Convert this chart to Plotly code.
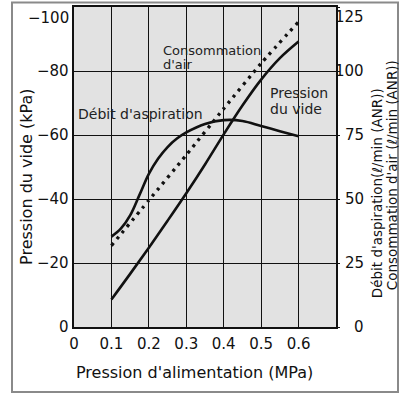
import plotly.graph_objects as go

FONT = "DejaVu Sans, Liberation Sans, Arial, sans-serif"

# ---- data ----
x_vide = [0.1, 0.15, 0.2, 0.25, 0.3, 0.35, 0.4, 0.45, 0.5, 0.55, 0.6]
vide_kpa = [-8.6, -16.6, -24.8, -33.2, -41.8, -50.8, -60.2, -69.2, -77.3, -84, -89.2]

x_debit = [0.1, 0.125, 0.15, 0.175, 0.2, 0.225, 0.25, 0.275, 0.3, 0.35, 0.4, 0.45, 0.5, 0.55, 0.6]
debit_lmin = [35.3, 38.4, 43.6, 51.6, 59.8, 65.8, 70.3, 73.6, 76, 79.3, 80.8, 80.5, 78.5, 76.5, 74.5]

x_conso = [0.1, 0.2, 0.3, 0.4, 0.5, 0.6]
conso_lmin = [31.8, 49.5, 67.2, 85.3, 103, 119.2]

x_tick_vals = [0, 0.1, 0.2, 0.3, 0.4, 0.5, 0.6]
x_tick_text = ["0", "0.1", "0.2", "0.3", "0.4", "0.5", "0.6"]
left_tick_vals = [0, -20, -40, -60, -80, -100]
left_tick_text = ["0", "\u221220", "\u221240", "\u221260", "\u221280", "\u2212100"]
right_tick_vals = [0, 25, 50, 75, 100, 125]
right_tick_text = ["0", "25", "50", "75", "100", "125"]

# ---- layout geometry (pixels) ----
W, H = 399, 394
L, R, T, B = 74, 336, 5, 327


def px(x):
    return (x - L) / (R - L)


def py(y):
    return (B - y) / (B - T)


INK = "#111111"

fig = go.Figure()
fig.add_trace(go.Scatter(x=x_vide, y=vide_kpa, mode="lines", yaxis="y",
                         line=dict(color=INK, width=2.6, shape="spline", smoothing=1),
                         showlegend=False, hoverinfo="skip"))
fig.add_trace(go.Scatter(x=x_debit, y=debit_lmin, mode="lines", yaxis="y2",
                         line=dict(color=INK, width=2.6, shape="spline", smoothing=1),
                         showlegend=False, hoverinfo="skip"))
fig.add_trace(go.Scatter(x=x_conso, y=conso_lmin, mode="lines", yaxis="y2",
                         line=dict(color=INK, width=3.3, dash="3px,5px", shape="spline", smoothing=0.6),
                         showlegend=False, hoverinfo="skip"))

annotations = []
for v, t in zip(left_tick_vals, left_tick_text):
    annotations.append(dict(x=px(71), xref="paper", y=v, yref="y", text=t,
                            xanchor="right", yanchor="middle", showarrow=False,
                            yshift=-11 if v == -100 else 0,
                            font=dict(family=FONT, size=15, color=INK)))
for v, t in zip(right_tick_vals, right_tick_text):
    annotations.append(dict(x=px(366), xref="paper", y=v, yref="y2", text=t,
                            xanchor="right", yanchor="middle", showarrow=False,
                            yshift=-10 if v == 125 else 0,
                            font=dict(family=FONT, size=15, color=INK)))

# axis titles
annotations.append(dict(x=px(27), y=py(176), xref="paper", yref="paper",
                        text="Pression du vide (kPa)", textangle=-90, showarrow=False,
                        xanchor="center", yanchor="middle",
                        font=dict(family=FONT, size=16, color=INK)))
annotations.append(dict(x=px(194), y=py(373), xref="paper", yref="paper",
                        text="Pression d'alimentation (MPa)", showarrow=False,
                        xanchor="center", yanchor="middle",
                        font=dict(family=FONT, size=16, color=INK)))
annotations.append(dict(x=px(377), y=py(300), xref="paper", yref="paper",
                        text="Débit d'aspiration(\u2113/min (ANR))", textangle=-90, showarrow=False,
                        xanchor="center", yanchor="bottom",
                        font=dict(family=FONT, size=13.5, color=INK)))
annotations.append(dict(x=px(392), y=py(292), xref="paper", yref="paper",
                        text="Consommation d'air (\u2113/min (ANR))", textangle=-90, showarrow=False,
                        xanchor="center", yanchor="bottom",
                        font=dict(family=FONT, size=13.5, color=INK)))

# in-plot labels
for txt, xl, yc, fs in [("Consommation", 161, 49, 13), ("d'air", 161, 63, 13),
                        ("Débit d'aspiration", 76, 113, 14),
                        ("Pression", 268, 92, 14), ("du vide", 268, 108, 14)]:
    annotations.append(dict(x=px(xl), y=py(yc), xref="paper", yref="paper",
                            text=txt, showarrow=False, xanchor="left", yanchor="middle",
                            font=dict(family=FONT, size=fs, color="#222222")))

fig.update_layout(
    width=W, height=H,
    margin=dict(l=L, r=W - R, t=T, b=H - B, pad=0),
    paper_bgcolor="white",
    plot_bgcolor="#e2e2e2",
    font=dict(family=FONT, size=15, color=INK),
    xaxis=dict(range=[0, 0.7], tickvals=x_tick_vals, ticktext=x_tick_text,
               showgrid=True, gridcolor=INK, gridwidth=1.3, zeroline=False,
               showline=True, mirror=True, linecolor=INK, linewidth=1.5,
               ticks="", ticklabelstandoff=2,
               tickfont=dict(family=FONT, size=15, color=INK)),
    yaxis=dict(range=[0, -100], tickvals=left_tick_vals, showticklabels=False,
               showgrid=True, gridcolor=INK, gridwidth=1.3, zeroline=False,
               showline=True, mirror=True, linecolor=INK, linewidth=1.5, ticks=""),
    yaxis2=dict(range=[0, 125], overlaying="y", side="right", tickvals=right_tick_vals,
                showticklabels=False, showgrid=False, zeroline=False,
                ticks="outside", ticklen=3, tickcolor=INK, tickwidth=1.3),
    annotations=annotations,
    shapes=[dict(type="rect", xref="paper", yref="paper",
                 x0=px(12), x1=px(398), y0=py(392.5), y1=py(0.5),
                 line=dict(color="#8a8a8a", width=2), fillcolor="rgba(0,0,0,0)")],
)

fig.write_html("out.html", config={"displayModeBar": False},
               post_script="document.body.style.margin='0';document.body.style.overflow='hidden';")
